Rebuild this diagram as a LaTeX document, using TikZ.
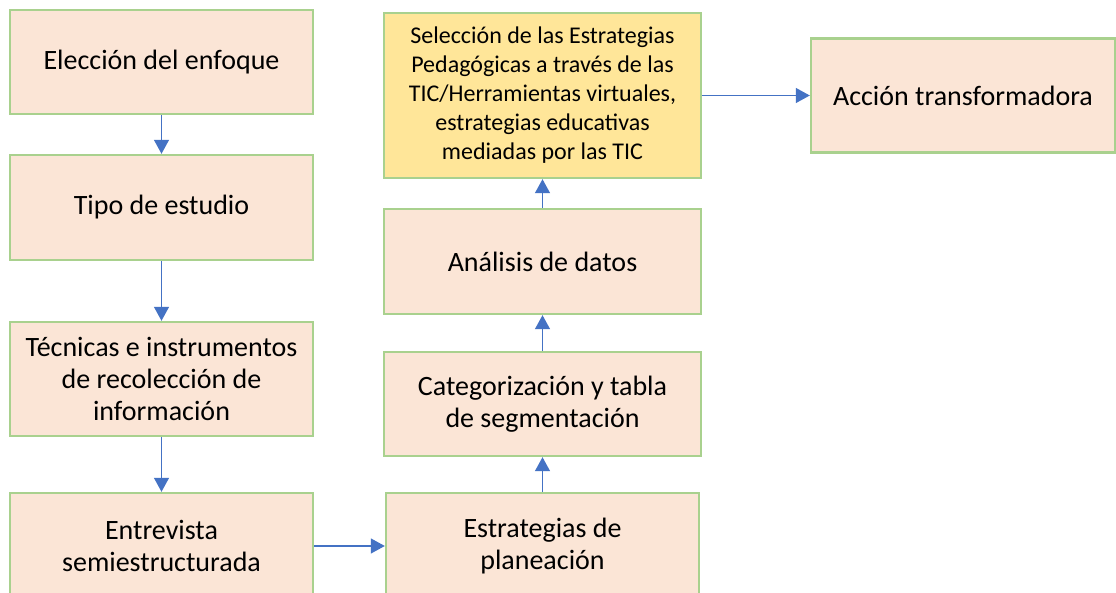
\documentclass[tikz,border=0pt]{standalone}
\usepackage{fontspec}
\setmainfont{Carlito}
\usetikzlibrary{arrows.meta}

\definecolor{boxfill}{HTML}{FBE5D6}
\definecolor{boxgold}{HTML}{FFE699}
\definecolor{boxline}{HTML}{A9D18E}
\definecolor{arrowblue}{HTML}{4472C4}

\begin{document}
\begin{tikzpicture}[x=0.5pt, y=-0.5pt,
    paso/.style={draw=boxline, line width=1.2pt, fill=boxfill, align=center,
        inner sep=0pt, font=\fontsize{14}{16.2}\selectfont},
    flecha/.style={draw=arrowblue, line width=0.65pt,
        -{Triangle[length=7pt, width=7.5pt]}}]
    \clip (0, 0) rectangle (1116, 593);
    \fill[white] (0, 0) rectangle (1116, 593);

    \node[paso, minimum width=151.5pt, minimum height=52pt] (eleccion) at (161.5, 62) {Elección del enfoque};
    \node[paso, minimum width=151.5pt, minimum height=52.5pt] (tipo) at (161.5, 207.5) {Tipo de estudio};
    \node[paso, minimum width=151.5pt, minimum height=57pt] (tecnicas) at (161.5, 379) {Técnicas e instrumentos\\de recolección de\\información};
    \node[paso, minimum width=151.5pt, minimum height=53pt] (entrevista) at (161.5, 546) {Entrevista\\semiestructurada};

    \node[paso, minimum width=156.5pt, minimum height=53pt] (estrategias) at (542.5, 546) {Estrategias de\\planeación};
    \node[paso, minimum width=158.5pt, minimum height=52pt] (categorizacion) at (542.5, 404) {Categorización y tabla\\de segmentación};
    \node[paso, minimum width=158.5pt, minimum height=52.5pt] (analisis) at (542.5, 261.5) {Análisis de datos};
    \node[paso, fill=boxgold, minimum width=158.5pt, minimum height=82.5pt,
        font=\fontsize{12}{14.5}\selectfont] (seleccion) at (542.5, 95.5)
        {Selección de las Estrategias\\Pedagógicas a través de las\\TIC/Herramientas virtuales,\\estrategias educativas\\mediadas por las TIC};

    \node[paso, minimum width=152pt, minimum height=57pt] (accion) at (963, 95.5) {Acción transformadora};

    \draw[flecha] (eleccion) -- (tipo);
    \draw[flecha] (tipo) -- (tecnicas);
    \draw[flecha] (tecnicas) -- (entrevista);
    \draw[flecha] (entrevista) -- (estrategias);
    \draw[flecha] (estrategias) -- (categorizacion);
    \draw[flecha] (categorizacion) -- (analisis);
    \draw[flecha] (analisis) -- (seleccion);
    \draw[flecha] (seleccion) -- (accion);
\end{tikzpicture}
\end{document}
